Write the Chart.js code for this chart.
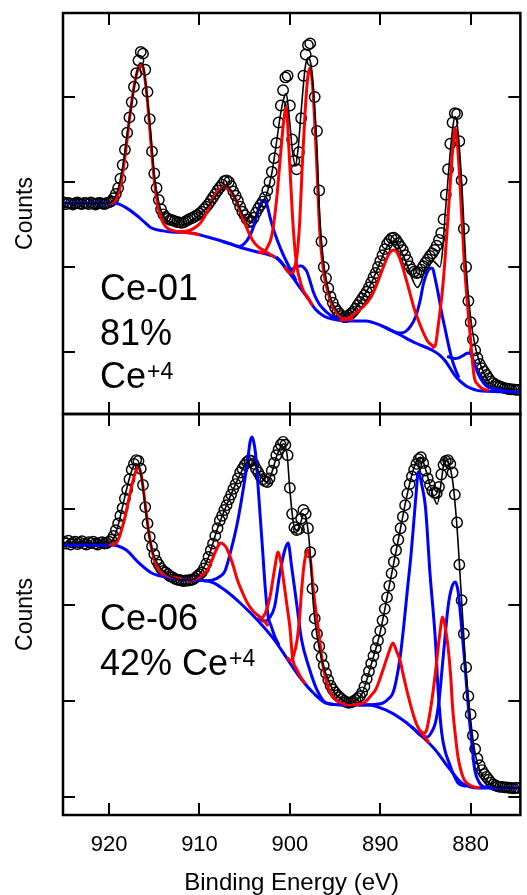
<!DOCTYPE html>
<html>
<head>
<meta charset="utf-8">
<script src="https://cdn.jsdelivr.net/npm/chart.js@4.4.0/dist/chart.umd.min.js"></script>
<style>
  html, body { margin: 0; padding: 0; background: #fff; }
  #wrap { width: 527px; height: 895px; }
</style>
</head>
<body>
<div id="wrap"><canvas id="xps" width="527" height="895"></canvas></div>
<script>
// Ce 3d spectra, binding energy grid (eV)
const energy = [925, 924.75, 924.5, 924.25, 924, 923.75, 923.5, 923.25, 923, 922.75,
  922.5, 922.25, 922, 921.75, 921.5, 921.25, 921, 920.75, 920.5, 920.25,
  920, 919.75, 919.5, 919.25, 919, 918.75, 918.5, 918.25, 918, 917.75,
  917.5, 917.25, 917, 916.75, 916.5, 916.25, 916, 915.75, 915.5, 915.25,
  915, 914.75, 914.5, 914.25, 914, 913.75, 913.5, 913.25, 913, 912.75,
  912.5, 912.25, 912, 911.75, 911.5, 911.25, 911, 910.75, 910.5, 910.25,
  910, 909.75, 909.5, 909.25, 909, 908.75, 908.5, 908.25, 908, 907.75,
  907.5, 907.25, 907, 906.75, 906.5, 906.25, 906, 905.75, 905.5, 905.25,
  905, 904.75, 904.5, 904.25, 904, 903.75, 903.5, 903.25, 903, 902.75,
  902.5, 902.25, 902, 901.75, 901.5, 901.25, 901, 900.75, 900.5, 900.25,
  900, 899.75, 899.5, 899.25, 899, 898.75, 898.5, 898.25, 898, 897.75,
  897.5, 897.25, 897, 896.75, 896.5, 896.25, 896, 895.75, 895.5, 895.25,
  895, 894.75, 894.5, 894.25, 894, 893.75, 893.5, 893.25, 893, 892.75,
  892.5, 892.25, 892, 891.75, 891.5, 891.25, 891, 890.75, 890.5, 890.25,
  890, 889.75, 889.5, 889.25, 889, 888.75, 888.5, 888.25, 888, 887.75,
  887.5, 887.25, 887, 886.75, 886.5, 886.25, 886, 885.75, 885.5, 885.25,
  885, 884.75, 884.5, 884.25, 884, 883.75, 883.5, 883.25, 883, 882.75,
  882.5, 882.25, 882, 881.75, 881.5, 881.25, 881, 880.75, 880.5, 880.25,
  880, 879.75, 879.5, 879.25, 879, 878.75, 878.5, 878.25, 878, 877.75,
  877.5, 877.25, 877, 876.75, 876.5, 876.25, 876, 875.75, 875.5, 875.25,
  875, 874.75];

// measured counts (open circles)
const countsCe01 = [2760, 2740, 2755, 2745, 2735, 2750, 2760, 2745, 2740, 2755,
  2750, 2740, 2760, 2745, 2735, 2750, 2755, 2745, 2740, 2755,
  2760, 2775, 2810, 2860, 2930, 3040, 3200, 3380, 3580, 3760,
  3940, 4120, 4280, 4430, 4530, 4510, 4320, 4060, 3740, 3360,
  3100, 2930, 2790, 2680, 2620, 2590, 2570, 2555, 2550, 2540,
  2530, 2525, 2520, 2525, 2540, 2555, 2570, 2580, 2595, 2610,
  2630, 2650, 2680, 2710, 2740, 2780, 2820, 2860, 2900, 2935,
  2970, 3010, 3020, 3000, 2950, 2890, 2840, 2780, 2710, 2650,
  2610, 2560, 2530, 2540, 2580, 2640, 2690, 2730, 2770, 2820,
  2900, 3000, 3120, 3280, 3460, 3700, 3900, 4080, 4230, 4250,
  3900, 3500, 3250, 3150, 3350, 3750, 4250, 4500, 4610, 4630,
  4420, 4000, 3600, 2900, 2300, 2000, 1870, 1750, 1650, 1580,
  1520, 1480, 1450, 1425, 1410, 1415, 1430, 1450, 1475, 1510,
  1550, 1590, 1630, 1670, 1710, 1760, 1820, 1880, 1930, 2000,
  2070, 2140, 2210, 2270, 2310, 2340, 2345, 2320, 2280, 2240,
  2200, 2140, 2080, 2010, 1970, 1945, 1930, 1935, 1970, 2010,
  2050, 2090, 2130, 2160, 2200, 2250, 2320, 2400, 2560, 2850,
  3150, 3450, 3700, 3810, 3800, 3480, 3020, 2450, 2000, 1600,
  1350, 1150, 1020, 930, 860, 810, 770, 730, 690, 655,
  635, 620, 605, 595, 585, 575, 570, 565, 560, 560,
  555, 555];

const countsCe06 = [3660, 3640, 3670, 3630, 3650, 3660, 3635, 3650, 3665, 3640,
  3630, 3655, 3645, 3660, 3640, 3630, 3650, 3655, 3640, 3645,
  3660, 3680, 3720, 3780, 3850, 3930, 4010, 4110, 4200, 4310,
  4410, 4470, 4510, 4500, 4420, 4250, 4020, 3850, 3710, 3610,
  3530, 3460, 3420, 3380, 3355, 3340, 3320, 3300, 3290, 3275,
  3265, 3260, 3255, 3250, 3255, 3255, 3260, 3265, 3280, 3300,
  3320, 3340, 3380, 3430, 3500, 3570, 3640, 3720, 3800, 3880,
  3930, 3990, 4040, 4100, 4150, 4210, 4260, 4320, 4380, 4420,
  4460, 4490, 4510, 4500, 4470, 4420, 4380, 4340, 4310, 4290,
  4280, 4320, 4400, 4480, 4560, 4620, 4670, 4700, 4670, 4560,
  4220, 3950, 3810, 3780, 3790, 3900, 3990, 3950, 3800, 3550,
  3170, 2860, 2700, 2570, 2460, 2370, 2290, 2220, 2160, 2120,
  2090, 2060, 2040, 2020, 2000, 1990, 1980, 1985, 1995, 2010,
  2030, 2050, 2090, 2150, 2230, 2310, 2390, 2470, 2550, 2630,
  2730, 2840, 2960, 3080, 3200, 3330, 3450, 3570, 3680, 3800,
  3920, 4040, 4160, 4260, 4340, 4410, 4470, 4520, 4540, 4480,
  4400, 4320, 4250, 4190, 4170, 4165, 4230, 4360, 4460, 4500,
  4510, 4470, 4380, 4150, 3860, 3420, 3050, 2700, 2350, 2050,
  1860, 1640, 1500, 1400, 1330, 1280, 1240, 1210, 1180, 1150,
  1130, 1120, 1110, 1105, 1105, 1100, 1100, 1095, 1095, 1090,
  1095, 1095];

// Ce-01 fit: envelope, background, Ce4+ (red) and Ce3+ (blue) components  [eV, counts]
const fitCe01 = [[925.0,2750],[920.0,2752],[919.5,2790],[919.0,2920],[918.5,3180],[918.0,3560],[917.5,3930],[917.0,4250],[916.6,4400],[916.3,4390],[916.0,4200],[915.5,3700],[915.0,3080],[914.5,2760],[914.0,2600],[913.0,2520],[912.0,2500],[911.0,2540],[910.0,2610],[909.0,2720],[908.0,2860],[907.3,2940],[907.0,2950],[906.5,2900],[906.0,2800],[905.5,2680],[905.0,2580],[904.5,2530],[904.0,2560],[903.5,2660],[903.0,2760],[902.5,2880],[902.0,3100],[901.5,3450],[901.0,3820],[900.6,4010],[900.4,4040],[900.1,3800],[899.7,3350],[899.4,3200],[899.1,3380],[898.7,3900],[898.3,4350],[898.0,4460],[897.7,4400],[897.3,3950],[897.0,3400],[896.7,2600],[896.3,2080],[896.0,1870],[895.5,1640],[895.0,1520],[894.0,1420],[893.0,1480],[892.0,1630],[891.0,1810],[890.0,2060],[889.3,2230],[888.7,2300],[888.4,2305],[888.0,2250],[887.0,2020],[886.3,1820],[885.9,1760],[885.5,1820],[885.0,1990],[884.3,2080],[883.8,2040],[883.4,2000],[883.1,2200],[882.8,2650],[882.3,3300],[881.9,3700],[881.7,3770],[881.4,3600],[881.0,3020],[880.5,2000],[880.0,1400],[879.5,1070],[879.0,880],[878.5,740],[878.0,650],[877.0,590],[876.0,565],[874.6,560]];
const bgCe01 = [[925.1,2753],[919.5,2752],[918.9,2740],[918.0,2690],[917.0,2612],[916.0,2520],[915.3,2459],[914.0,2425],[913.1,2412],[910.9,2400],[909.1,2353],[907.2,2294],[905.6,2235],[903.6,2176],[901.7,2118],[901.0,2060],[900.4,1976],[899.7,1880],[899.0,1776],[898.0,1630],[897.2,1506],[896.2,1420],[895.3,1388],[893.8,1365],[891.6,1365],[889.8,1306],[888.0,1212],[886.1,1106],[884.3,1024],[883.5,970],[882.8,894],[881.7,718],[880.5,600],[879.5,555],[878.8,541],[874.6,529]];
const redCe01 = [
  [[920.0,2753],[919.7,2755],[919.2,2800],[918.7,2980],[918.2,3330],[917.7,3780],[917.2,4150],[916.8,4330],[916.5,4380],[916.2,4330],[915.8,4000],[915.4,3500],[915.0,3020],[914.6,2720],[914.2,2560],[913.7,2470],[913.0,2430],[912.0,2410],[911.0,2400],[910.0,2380]],
  [[912.5,2415],[911.5,2420],[910.9,2440],[910.3,2480],[909.8,2530],[909.1,2660],[908.6,2790],[908.2,2860],[907.7,2920],[907.2,2945],[906.7,2910],[906.1,2820],[905.5,2660],[905.0,2520],[904.4,2370],[903.9,2280],[903.3,2220],[902.8,2190],[902.2,2150],[901.6,2115]],
  [[903.5,2180],[903.0,2170],[902.5,2230],[902.0,2370],[901.5,2760],[901.0,3360],[900.7,3700],[900.4,3880],[900.1,3380],[899.7,2580],[899.3,2060],[899.0,1890],[898.5,1720],[898.0,1640],[897.5,1545]],
  [[900.6,2000],[900.1,1935],[899.7,1930],[899.5,1990],[899.2,2140],[898.9,2550],[898.6,3260],[898.3,3850],[898.0,4250],[897.75,4340],[897.5,4150],[897.2,3600],[897.0,3140],[896.7,2430],[896.3,1970],[895.7,1670],[894.9,1470],[894.0,1400],[893.0,1380]],
  [[894.5,1375],[893.8,1380],[893.0,1440],[891.9,1530],[891.0,1650],[890.5,1765],[889.8,1960],[889.2,2120],[888.8,2185],[888.5,2200],[888.2,2180],[887.7,2060],[886.9,1765],[886.3,1530],[885.8,1376],[885.2,1220],[884.7,1118],[884.3,1082],[883.9,1060]],
  [[884.3,1050],[883.9,1082],[883.6,1300],[883.2,1647],[882.9,2000],[882.6,2435],[882.1,3224],[881.9,3480],[881.7,3635],[881.5,3500],[881.2,3024],[880.7,2047],[880.1,1259],[879.6,706],[879.2,620],[878.8,576],[878.0,545]]
];
const blueCe01 = [
  [[907.5,2300],[906.5,2270],[905.6,2240],[905.0,2280],[904.5,2353],[904.0,2480],[903.6,2635],[903.2,2750],[902.95,2780],[902.8,2788],[902.65,2770],[902.5,2720],[902.2,2588],[901.8,2440],[901.4,2318],[900.8,2160],[900.3,2047],[899.8,1941],[899.3,1840]],
  [[901.5,2120],[901.0,2065],[900.5,1995],[900.1,1965],[899.5,1988],[898.9,2012],[898.7,2012],[898.3,1975],[898.1,1941],[897.7,1810],[897.4,1706],[897.0,1610],[896.5,1529],[895.4,1424],[894.3,1376],[893.5,1366]],
  [[889.5,1290],[888.5,1240],[887.8,1225],[887.2,1240],[886.6,1310],[886.1,1412],[885.6,1600],[885.2,1812],[884.7,1960],[884.45,1985],[884.3,1988],[884.15,1970],[884.0,1900],[883.6,1694],[883.2,1460],[882.8,1259],[882.4,1060],[882.1,929],[881.7,800],[881.3,700]],
  [[882.6,950],[882.1,929],[881.7,925],[881.4,929],[880.8,960],[880.4,985],[880.1,988],[879.8,930],[879.2,753],[878.6,640],[878.1,588],[877.3,565],[876.6,553],[875.5,540]]
];

// Ce-06 fit
const fitCe06 = [[925.0,3650],[920.0,3650],[919.5,3690],[919.0,3830],[918.5,4030],[918.0,4230],[917.5,4400],[917.1,4470],[916.8,4460],[916.4,4330],[916.0,4020],[915.5,3690],[915.0,3500],[914.0,3350],[913.0,3290],[912.0,3260],[911.0,3260],[910.0,3320],[909.0,3500],[908.0,3800],[907.0,4040],[906.0,4260],[905.0,4450],[904.3,4520],[904.0,4500],[903.5,4400],[903.0,4310],[902.5,4280],[902.0,4380],[901.5,4540],[901.0,4650],[900.7,4680],[900.3,4560],[900.0,4200],[899.6,3850],[899.2,3780],[898.8,3860],[898.5,3940],[898.2,3900],[897.8,3600],[897.4,3000],[897.0,2680],[896.5,2440],[896.0,2280],[895.0,2080],[894.0,2000],[893.5,1975],[893.0,1990],[892.0,2080],[891.0,2380],[890.0,2720],[889.0,3200],[888.0,3680],[887.0,4160],[886.3,4420],[885.8,4530],[885.5,4540],[885.0,4420],[884.5,4250],[884.0,4100],[883.7,4050],[883.3,4250],[883.0,4460],[882.8,4540],[882.5,4500],[882.0,4300],[881.5,3800],[881.0,3050],[880.5,2300],[880.0,1800],[879.5,1450],[879.0,1280],[878.0,1150],[877.0,1100],[874.6,1090]];
const bgCe06 = [[925.1,3625],[919.7,3625],[919.0,3615],[918.1,3573],[916.7,3438],[915.3,3333],[913.8,3292],[910.9,3260],[908.7,3240],[907.2,3156],[905.5,3021],[903.6,2844],[901.7,2635],[900.3,2440],[899.0,2260],[897.4,2083],[896.0,1979],[893.8,1958],[891.3,1958],[889.4,1906],[887.5,1802],[885.8,1667],[883.9,1490],[882.5,1313],[881.0,1146],[879.9,1100],[879.2,1094],[874.6,1094]];
const redCe06 = [
  [[920.0,3626],[919.2,3646],[918.4,3854],[917.6,4198],[917.1,4380],[916.8,4438],[916.5,4380],[916.2,4198],[915.6,3750],[914.9,3438],[914.3,3340],[913.8,3313],[913.0,3290],[912.0,3270]],
  [[911.5,3255],[910.8,3262],[910.2,3281],[909.6,3320],[909.1,3365],[908.7,3450],[908.3,3542],[907.9,3620],[907.7,3646],[907.3,3630],[906.9,3573],[906.3,3420],[905.8,3260],[905.2,3120],[904.7,3021],[904.1,2940],[903.6,2896],[903.2,2865],[902.8,2830],[902.4,2780]],
  [[903.5,2875],[903.2,2868],[902.8,2900],[902.2,3083],[901.7,3370],[901.3,3552],[901.0,3450],[900.7,3260],[900.3,2980],[900.0,2771],[899.7,2450],[899.2,2323],[898.8,2250],[898.3,2180]],
  [[900.3,2450],[899.9,2420],[899.6,2470],[899.2,2635],[898.9,2900],[898.7,3156],[898.4,3440],[898.0,3573],[897.7,3450],[897.4,3156],[897.0,2850],[896.7,2635],[896.4,2400],[896.0,2219],[895.5,2080],[894.9,2010],[894.0,1970]],
  [[894.0,1960],[893.0,1962],[892.2,1968],[891.6,1995],[891.0,2060],[890.5,2120],[890.0,2240],[889.5,2380],[889.0,2520],[888.6,2604],[888.2,2520],[887.8,2420],[887.5,2292],[886.9,2050],[886.4,1875],[885.9,1740],[885.4,1660],[885.0,1620],[884.6,1560]],
  [[885.6,1690],[885.2,1665],[884.9,1690],[884.7,1771],[884.3,2000],[883.9,2292],[883.4,2708],[883.1,2875],[882.8,2760],[882.5,2563],[882.2,2250],[882.0,1938],[881.7,1650],[881.4,1417],[881.0,1250],[880.7,1177],[880.2,1130],[879.6,1104],[879.0,1095]]
];
const blueCe06 = [
  [[909.5,3250],[908.5,3262],[907.7,3300],[907.2,3350],[906.6,3540],[905.8,3860],[905.0,4300],[904.6,4560],[904.4,4700],[904.2,4750],[904.0,4700],[903.8,4580],[903.4,4080],[903.0,3550],[902.7,3150],[902.4,2880],[902.1,2790],[901.7,2680],[901.2,2580]],
  [[903.5,2870],[902.8,2830],[902.3,2860],[901.7,2979],[901.1,3333],[900.6,3560],[900.2,3646],[899.8,3396],[899.2,2979],[898.7,2635],[897.9,2354],[897.0,2115],[896.0,1979],[895.0,1962]],
  [[892.5,1958],[891.3,1960],[889.7,1979],[889.0,2030],[888.6,2083],[888.2,2230],[887.8,2458],[887.4,2780],[887.0,3156],[886.6,3520],[886.3,3854],[886.0,4200],[885.8,4385],[885.6,4340],[885.4,4250],[885.0,4021],[884.5,3333],[883.9,2635],[883.6,2115],[883.2,1667],[882.8,1470],[882.5,1385],[881.4,1146],[880.5,1110]],
  [[886.5,1730],[885.5,1640],[884.8,1625],[884.3,1680],[883.9,1771],[883.5,2000],[883.2,2292],[882.8,2700],[882.5,2979],[882.1,3180],[881.7,3240],[881.4,3150],[881.2,2979],[880.7,2458],[880.4,2100],[880.1,1771],[879.8,1500],[879.6,1313],[879.1,1160],[878.5,1104],[877.5,1095]]
];

const energyTicks = [920, 910, 900, 890, 880];
const countTicks = [1000, 2000, 3000, 4000];

const FONT = '"Liberation Sans", Arial, sans-serif';
const RED = 'rgb(255, 0, 0)';
const BLUE = 'rgb(0, 0, 255)';

function circles(axis, counts) {
  return {
    data: energy.map((e, i) => ({ x: e, y: counts[i] })),
    yAxisID: axis,
    showLine: false,
    pointStyle: 'circle',
    pointRadius: 5.2,
    pointBorderWidth: 1.45,
    pointBorderColor: '#000',
    pointBackgroundColor: 'rgba(0,0,0,0)',
    order: 3
  };
}

function curve(axis, pairs, color, width, order) {
  return {
    data: pairs.map(p => ({ x: p[0], y: p[1] })),
    yAxisID: axis,
    borderColor: color,
    borderWidth: width,
    pointRadius: 0,
    fill: false,
    cubicInterpolationMode: 'monotone',
    order: order
  };
}

const datasets = [
  circles('yTop', countsCe01),
  curve('yTop', bgCe01, BLUE, 3, 2),
  ...redCe01.map(c => curve('yTop', c, RED, 3, 1)),
  ...blueCe01.map(c => curve('yTop', c, BLUE, 3, 1)),
  curve('yTop', fitCe01, '#000', 1.6, 0),
  circles('yBot', countsCe06),
  curve('yBot', bgCe06, BLUE, 3, 2),
  ...redCe06.map(c => curve('yBot', c, RED, 3, 1)),
  ...blueCe06.map(c => curve('yBot', c, BLUE, 3, 1)),
  curve('yBot', fitCe06, '#000', 1.6, 0)
];

// inward ticks and panel frames
const framePlugin = {
  id: 'frame',
  afterDatasetsDraw(chart) {
    const ctx = chart.ctx;
    const xs = chart.scales.x;
    const area = chart.chartArea;
    const tickLen = 12;
    ctx.save();
    ctx.strokeStyle = '#000';
    ['yTop', 'yBot'].forEach(id => {
      const s = chart.scales[id];
      const top = s.top, bot = s.bottom, l = area.left, r = area.right;
      ctx.lineWidth = 2;
      ctx.beginPath();
      energyTicks.forEach(v => {
        const x = Math.round(xs.getPixelForValue(v));
        ctx.moveTo(x, top); ctx.lineTo(x, top + tickLen);
        ctx.moveTo(x, bot); ctx.lineTo(x, bot - tickLen);
      });
      countTicks.forEach(v => {
        const y = Math.round(s.getPixelForValue(v));
        ctx.moveTo(l, y); ctx.lineTo(l + tickLen, y);
        ctx.moveTo(r, y); ctx.lineTo(r - tickLen, y);
      });
      ctx.stroke();
      ctx.lineWidth = 2.5;
      ctx.strokeRect(l, top, r - l, bot - top);
    });
    ctx.restore();
  }
};

// sample labels in each panel
const labelPlugin = {
  id: 'labels',
  afterDraw(chart) {
    const ctx = chart.ctx;
    const l = chart.chartArea.left + 37;
    const t = chart.scales.yTop.top;
    const b = chart.scales.yBot.top;
    ctx.save();
    ctx.fillStyle = '#000';
    ctx.textBaseline = 'alphabetic';
    ctx.font = '36px ' + FONT;
    ctx.fillText('Ce-01', l, t + 287);
    ctx.fillText('81%', l, t + 332);
    ctx.fillText('Ce', l, t + 375);
    const w = ctx.measureText('Ce').width;
    ctx.fillText('Ce-06', l, b + 216);
    ctx.fillText('42% Ce', l, b + 261);
    const w2 = ctx.measureText('42% Ce').width;
    ctx.font = '23px ' + FONT;
    ctx.fillText('+4', l + w + 1, t + 366);
    ctx.fillText('+4', l + w2 + 1, b + 252);
    ctx.restore();
  }
};

const countsAxis = (min, max) => ({
  type: 'linear',
  position: 'left',
  stack: 'panels',
  stackWeight: 1,
  min: min,
  max: max,
  grid: { display: false, drawTicks: false },
  border: { display: false },
  ticks: { display: false },
  afterFit: s => { s.width = 63; },
  title: { display: true, text: 'Counts', color: '#000', font: { size: 23, family: FONT }, padding: { top: 12, bottom: 0 } }
});

new Chart(document.getElementById('xps'), {
  type: 'line',
  data: { datasets: datasets },
  options: {
    responsive: false,
    animation: false,
    events: [],
    layout: { padding: { top: 13, right: 1, left: 0, bottom: 0 } },
    plugins: { legend: { display: false }, tooltip: { enabled: false } },
    scales: {
      x: {
        type: 'linear',
        reverse: true,
        min: 874.5,
        max: 925.1,
        grid: { display: false, drawTicks: false },
        border: { display: false },
        afterBuildTicks: s => { s.ticks = energyTicks.map(v => ({ value: v })); },
        afterFit: s => { s.height = 80; },
        ticks: { color: '#000', font: { size: 22, family: FONT }, padding: 17, maxRotation: 0, autoSkip: false },
        title: { display: true, text: 'Binding Energy (eV)', color: '#000', font: { size: 24, family: FONT }, padding: { top: 6, bottom: -3 } }
      },
      // listed bottom first: the last stacked axis ends up on top
      yBot: countsAxis(812, 4990),
      yTop: countsAxis(271, 4988)
    }
  },
  plugins: [framePlugin, labelPlugin]
});
</script>
</body>
</html>
